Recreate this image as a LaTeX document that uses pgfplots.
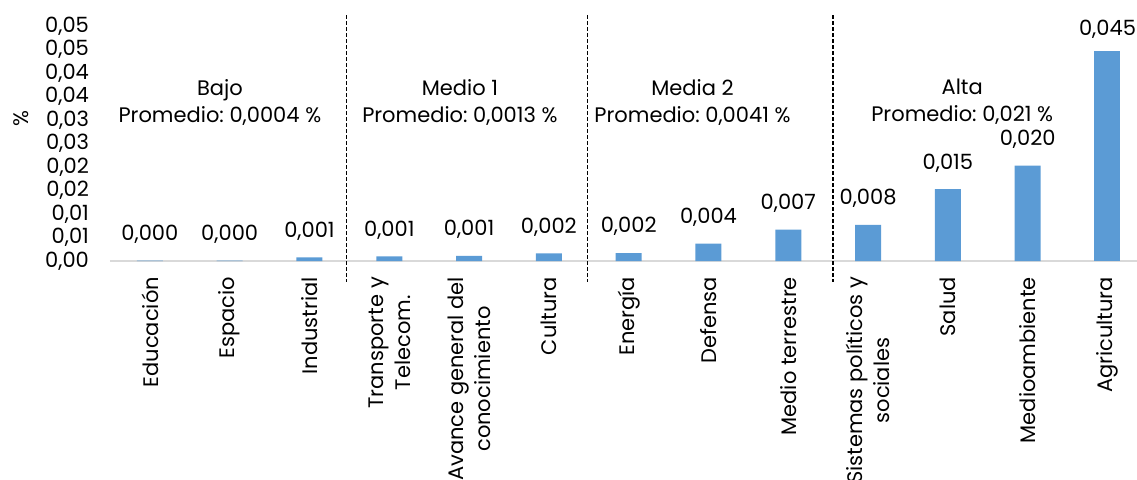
\documentclass[border=0pt]{standalone}
\usepackage{pgfplots}
\pgfplotsset{compat=1.18}
\usepackage{pgfplotstable}
\usepackage{fontspec}
\setmainfont{Poppins}
\definecolor{barblue}{HTML}{5B9BD5}
\definecolor{axgray}{HTML}{D9D9D9}
\newcommand\cf{\fontsize{10.5}{13.5}\selectfont}
\frenchspacing

\pgfplotstableread{
x y
0 0.0001
1 0.0001
2 0.0008
3 0.0010
4 0.0011
5 0.0016
6 0.0017
7 0.0037
8 0.0067
9 0.0077
10 0.0153
11 0.0203
12 0.0447
}\datatable

\begin{document}
\begin{tikzpicture}[font=\cf]
\begin{axis}[
  scale only axis,
  width=513.5pt, height=117.5pt,
  xmin=-0.5, xmax=12.37,
  ymin=0, ymax=0.05,
  clip=false,
  axis x line*=bottom,
  axis y line*=left,
  x axis line style={draw=axgray, line width=1pt, -},
  y axis line style={draw=none},
  major tick length=0pt,
  scaled y ticks=false,
  xtick={0,...,12},
  xticklabels={Educación, Espacio, Industrial, {Transporte y\\Telecom.}, {Avance general del\\conocimiento}, Cultura, Energía, Defensa, Medio terrestre, {Sistemas políticos y\\sociales}, Salud, Medioambiente, Agricultura},
  xticklabel style={rotate=90, anchor=east, align=center, font=\cf, xshift=-4.5pt},
  ytick={0,0.005,...,0.05},
  yticklabels={{0,00},{0,01},{0,01},{0,02},{0,02},{0,03},{0,03},{0,04},{0,04},{0,05},{0,05}},
  yticklabel style={font=\cf, anchor=east, xshift=-7pt},
  ybar, bar width=13pt,
  point meta=y,
]
\addplot[fill=barblue, draw=none, bar shift=0pt,
  restrict x to domain=0:11,
  nodes near coords={\pgfmathprintnumber[fixed,fixed zerofill,precision=3,use comma,assume math mode=true]{\pgfplotspointmeta}},
  nodes near coords style={font=\cf, anchor=south, yshift=5pt, text=black}]
  table[x=x, y=y] {\datatable};
\addplot[fill=barblue, draw=none, bar shift=0pt,
  restrict x to domain=12:12,
  nodes near coords={\pgfmathprintnumber[fixed,fixed zerofill,precision=3,use comma,assume math mode=true]{\pgfplotspointmeta}},
  nodes near coords style={font=\cf, anchor=south, yshift=2.6pt, text=black}]
  table[x=x, y=y] {\datatable};

\draw[black, line width=0.6pt, dash pattern=on 2pt off 1pt] (axis cs:2.46,0.0523) -- (axis cs:2.46,-0.0045);
\draw[black, line width=0.6pt, dash pattern=on 2pt off 1pt] (axis cs:5.48,0.0523) -- (axis cs:5.48,-0.0045);
\draw[black, line width=0.6pt, dash pattern=on 2pt off 1pt] (axis cs:8.56,0.0523) -- (axis cs:8.56,-0.0045);

\node[align=center, font=\cf] at (axis cs:0.877,0.0338) {Bajo\\Promedio: 0,0004 \%};
\node[align=center, font=\cf] at (axis cs:3.885,0.0338) {Medio 1\\Promedio: 0,0013 \%};
\node[align=center, font=\cf] at (axis cs:6.80,0.0338) {Media 2\\Promedio: 0,0041 \%};
\node[align=center, font=\cf] at (axis cs:10.18,0.0338) {Alta\\Promedio: 0,021 \%};
\node[rotate=90, font=\cf] at ([xshift=-44.5pt]axis description cs:0,0.606) {\%};
\end{axis}
\pgfresetboundingbox
\path (current axis.south west) ++(-55pt,-109pt) rectangle ++(568.5pt,239.5pt);
\end{tikzpicture}
\end{document}
